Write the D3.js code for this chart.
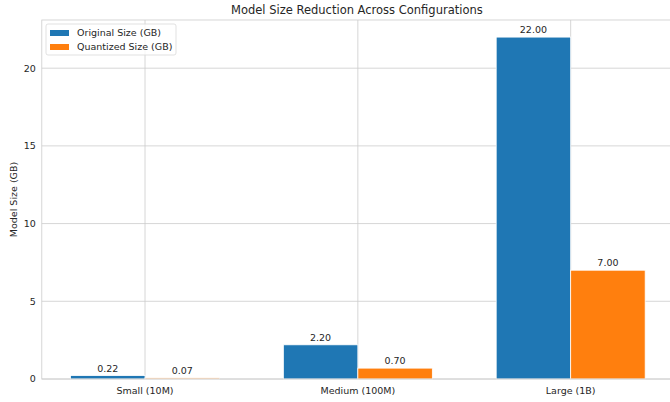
<!DOCTYPE html>
<html>
<head>
<meta charset="utf-8">
<script src="https://cdn.jsdelivr.net/npm/d3@7"></script>
<style>
  body { margin:0; background:#fff; }
  svg { font-family: "DejaVu Sans", sans-serif; }
</style>
</head>
<body>
<svg id="chart" width="670" height="402"></svg>
<script>
var categories = ["Small (10M)", "Medium (100M)", "Large (1B)"];
var originalSize = [0.22, 2.20, 22.00];
var quantizedSize = [0.07, 0.70, 7.00];
var seriesNames = ["Original Size (GB)", "Quantized Size (GB)"];
var yTicks = [0, 5, 10, 15, 20];

var colors = ["#1f77b4", "#ff7f0e"];
var barW = 0.35;
var margins = { top: 20, left: 41.8, right: -3.9, bottom: 23 };
var width = 670, height = 402;

var svg = d3.select("#chart");

var xScale = d3.scaleLinear()
  .domain([-0.485, 2.485])
  .range([margins.left, width - margins.right]);

var yMax = d3.max(originalSize.concat(quantizedSize)) * 1.05;
var yScale = d3.scaleLinear()
  .domain([0, yMax])
  .range([height - margins.bottom, margins.top]);

var plot = svg.append("g");

// grid
plot.selectAll(".ygrid").data(yTicks).enter().append("line")
  .attr("x1", margins.left).attr("x2", width - margins.right)
  .attr("y1", function(d){ return yScale(d); })
  .attr("y2", function(d){ return yScale(d); })
  .attr("stroke", "#cccccc").attr("stroke-width", 0.8);
plot.selectAll(".xgrid").data(categories).enter().append("line")
  .attr("x1", function(d,i){ return xScale(i); })
  .attr("x2", function(d,i){ return xScale(i); })
  .attr("y1", margins.top).attr("y2", height - margins.bottom)
  .attr("stroke", "#cccccc").attr("stroke-width", 0.8);

// bars
var series = [originalSize, quantizedSize];
series.forEach(function(vals, s){
  var off = s === 0 ? -barW : 0;
  plot.selectAll(".bar" + s).data(vals).enter().append("rect")
    .attr("x", function(d,i){ return xScale(i + off); })
    .attr("width", xScale(barW) - xScale(0))
    .attr("y", function(d){ return yScale(d); })
    .attr("height", function(d){ return yScale(0) - yScale(d); })
    .attr("fill", colors[s])
    .attr("stroke", "#ffffff").attr("stroke-width", 0.8);
  plot.selectAll(".lab" + s).data(vals).enter().append("text")
    .attr("x", function(d,i){ return xScale(i + off + barW / 2); })
    .attr("y", function(d){ return yScale(d) - 4; })
    .attr("text-anchor", "middle")
    .attr("font-size", "9.5px").attr("fill", "#262626")
    .text(function(d){ return d.toFixed(2); });
});

// spines
svg.append("rect")
  .attr("x", margins.left).attr("y", margins.top)
  .attr("width", width - margins.right - margins.left)
  .attr("height", height - margins.bottom - margins.top)
  .attr("fill", "none").attr("stroke", "#cccccc").attr("stroke-width", 0.8);

// y tick labels
svg.selectAll(".ytick").data(yTicks).enter().append("text")
  .attr("x", margins.left - 6)
  .attr("y", function(d){ return yScale(d); })
  .attr("dy", "0.35em")
  .attr("text-anchor", "end")
  .attr("font-size", "9.5px").attr("fill", "#262626")
  .text(function(d){ return d; });

// x tick labels
svg.selectAll(".xtick").data(categories).enter().append("text")
  .attr("x", function(d,i){ return xScale(i); })
  .attr("y", height - margins.bottom + 15)
  .attr("text-anchor", "middle")
  .attr("font-size", "9.5px").attr("fill", "#262626")
  .text(function(d){ return d; });

// y label
svg.append("text")
  .attr("transform", "translate(14," + ((margins.top + height - margins.bottom) / 2) + ") rotate(-90)")
  .attr("text-anchor", "middle")
  .attr("dy", "0.35em")
  .attr("font-size", "9.5px").attr("fill", "#262626")
  .text("Model Size (GB)");

// title
svg.append("text")
  .attr("x", (margins.left + 670) / 2 + 1)
  .attr("y", 14)
  .attr("text-anchor", "middle")
  .attr("font-size", "11.5px").attr("fill", "#262626")
  .text("Model Size Reduction Across Configurations");

// legend
var legend = svg.append("g").attr("transform", "translate(46,24)");
legend.append("rect")
  .attr("width", 130).attr("height", 31).attr("rx", 2)
  .attr("fill", "#ffffff").attr("fill-opacity", 0.8)
  .attr("stroke", "#d9d9d9").attr("stroke-width", 0.8);
seriesNames.forEach(function(n, i){
  legend.append("rect")
    .attr("x", 4).attr("y", 6 + i * 14)
    .attr("width", 19).attr("height", 6)
    .attr("fill", colors[i]);
  legend.append("text")
    .attr("x", 31).attr("y", 9 + i * 14)
    .attr("dy", "0.35em")
    .attr("font-size", "9.5px").attr("fill", "#262626")
    .text(n);
});
</script>
</body>
</html>
